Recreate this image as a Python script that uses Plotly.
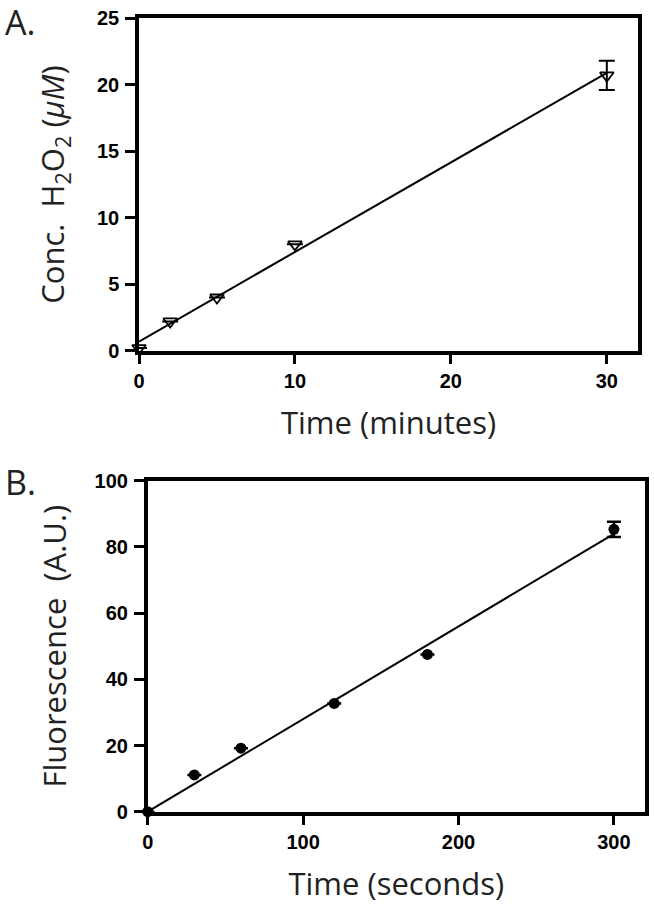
import numpy as np
import plotly.graph_objects as go

# Panel A data
time_min = [0, 2, 5, 10, 30]
h2o2_conc = [0.2, 2.2, 4.0, 8.0, 20.7]
h2o2_err = [0.0, 0.0, 0.0, 0.0, 1.1]

# Panel B data
time_sec = [0, 30, 60, 120, 180, 300]
fluor = [0.0, 11.1, 19.2, 32.7, 47.5, 85.3]
fluor_err = [0.0, 0.0, 0.0, 0.0, 0.0, 2.3]

xticks_a = [0, 10, 20, 30]
yticks_a = [0, 5, 10, 15, 20, 25]
xticks_b = [0, 100, 200, 300]
yticks_b = [0, 20, 40, 60, 80, 100]

# linear fits
sa, ia = np.polyfit(time_min, h2o2_conc, 1)
fit_xa = [min(time_min), max(time_min)]
fit_ya = [sa * x + ia for x in fit_xa]

xb = np.array(time_sec, float)
yb = np.array(fluor, float)
sb = float((xb * yb).sum() / (xb * xb).sum())
fit_xb = [min(time_sec), max(time_sec)]
fit_yb = [sb * x for x in fit_xb]

W, H = 654, 915
fig = go.Figure()

fig.add_trace(go.Scatter(x=fit_xa, y=fit_ya, mode="lines",
                         line=dict(color="black", width=2),
                         xaxis="x", yaxis="y", cliponaxis=False, showlegend=False))
fig.add_trace(go.Scatter(x=time_min, y=h2o2_conc, mode="markers",
                         marker=dict(symbol="triangle-down-open", size=12, color="black",
                                     line=dict(width=1.8, color="black")),
                         error_y=dict(type="data", array=h2o2_err, visible=True,
                                      color="black", thickness=2, width=8),
                         xaxis="x", yaxis="y", cliponaxis=False, showlegend=False))

fig.add_trace(go.Scatter(x=fit_xb, y=fit_yb, mode="lines",
                         line=dict(color="black", width=2),
                         xaxis="x2", yaxis="y2", cliponaxis=False, showlegend=False))
fig.add_trace(go.Scatter(x=time_sec, y=fluor, mode="markers",
                         marker=dict(symbol="circle", size=11, color="black"),
                         error_y=dict(type="data", array=fluor_err, visible=True,
                                      color="black", thickness=2.5, width=7),
                         xaxis="x2", yaxis="y2", cliponaxis=False, showlegend=False))

tickfont = dict(family="Liberation Sans, Arial, sans-serif", size=20, color="black",
                weight="bold")
titlefont = dict(family="Open Sans, sans-serif", size=31, color="#222")
panelfont = dict(family="Open Sans, sans-serif", size=34, color="#222")

axis_common = dict(showline=True, linewidth=3.5, linecolor="black", mirror=True,
                   ticks="outside", ticklen=10, tickwidth=3, tickcolor="black",
                   showgrid=False, zeroline=False, tickfont=tickfont, automargin=False)

fig.update_layout(
    template="none",
    width=W, height=H,
    margin=dict(l=0, r=0, t=0, b=0),
    paper_bgcolor="white", plot_bgcolor="white",
    xaxis=dict(domain=[139 / W, 638 / W], range=[0, 32], tickvals=xticks_a,
               anchor="y", ticklabelstandoff=0,
               title=dict(text="Time (minutes)", font=titlefont, standoff=22),
               **axis_common),
    yaxis=dict(domain=[1 - 350.7 / H, 1 - 18.3 / H], range=[0, 25], tickvals=yticks_a,
               anchor="x", ticklabelstandoff=2,
               title=dict(text="Conc.  H<sub>2</sub>O<sub>2</sub> (<i>µM</i>)", font=titlefont,
                          standoff=24),
               **axis_common),
    xaxis2=dict(domain=[147.7 / W, 645 / W], range=[0, 320], tickvals=xticks_b,
                anchor="y2", ticklabelstandoff=0,
                title=dict(text="Time (seconds)", font=titlefont, standoff=22),
                **axis_common),
    yaxis2=dict(domain=[1 - 811.7 / H, 1 - 480.7 / H], range=[0, 100], tickvals=yticks_b,
                anchor="x2", ticklabelstandoff=2,
                title=dict(text="Fluorescence  (A.U.)", font=titlefont, standoff=20),
                **axis_common),
    annotations=[
        dict(text="A.", x=3 / W, y=1 - 22 / H, xref="paper", yref="paper",
             xanchor="left", yanchor="middle", showarrow=False, font=panelfont),
        dict(text="B.", x=3 / W, y=1 - 482 / H, xref="paper", yref="paper",
             xanchor="left", yanchor="middle", showarrow=False, font=panelfont),
    ],
)

fig.write_html("out.html", config={"displayModeBar": False},
               post_script="document.body.style.margin='0';")
